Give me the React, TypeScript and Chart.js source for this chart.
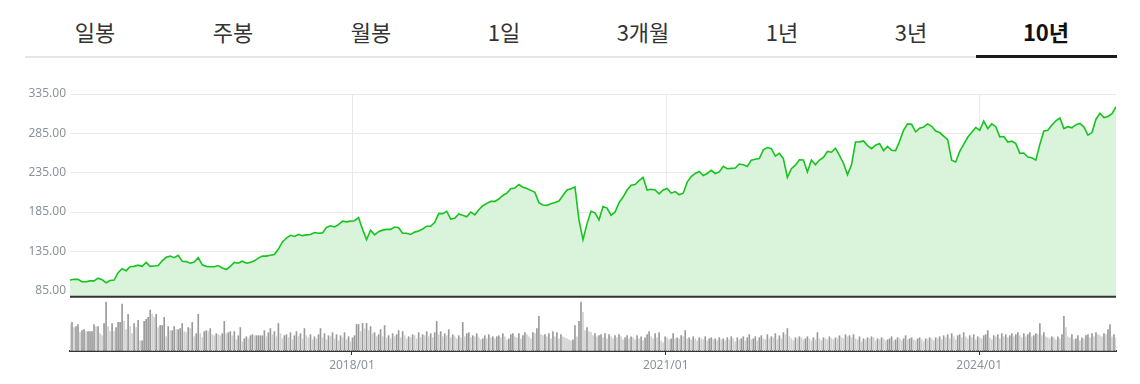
import React, { useEffect, useRef } from 'react';
import { Chart, registerables } from 'chart.js';

Chart.register(...registerables);

// ---- data ----
const tabs = ['일봉', '주봉', '월봉', '1일', '3개월', '1년', '3년', '10년'];
const selectedTab = '10년';

const startDate = '2015-04-22'; // first weekly sample
const tickDates = ['2018-01-01', '2021-01-01', '2024-01-01'];
const tickLabels = ['2018/01', '2021/01', '2024/01'];
const priceTicks = [85, 135, 185, 235, 285, 335];
const priceStepWeeks = 2;

// bi-weekly closing prices
const prices = [
  98.6, 99.5, 99.5, 96.5, 96.5, 97.5, 97.5, 101, 99, 95.2,
  98, 98.5, 108, 113, 110.5, 115.6, 116, 117.5, 116, 121,
  116, 116.5, 117, 123, 127.5, 129, 127, 130, 122.5, 122,
  120, 121.5, 127, 118, 116, 115.5, 115.5, 117, 114, 112,
  116, 121, 120, 122.5, 120, 121, 123, 126.5, 129, 129,
  130, 131, 138, 147, 152, 155.5, 154, 156.5, 155, 156,
  156.5, 159, 158, 158.5, 165.5, 167.5, 166, 169, 173.5, 172.5,
  173.5, 174, 178, 163, 150, 162, 156, 160,
  162, 163, 163, 166, 165, 158, 158, 156.5, 159.5, 161,
  163.5, 167, 167, 172, 183, 183, 186, 176, 177, 182.5,
  181, 179, 185, 181.5, 188, 193, 196, 198.5, 198.5, 201.5,
  206, 209, 214.5, 215.5, 220, 216.5, 215, 212.5, 210, 197,
  194, 193.5, 195.5, 197, 199, 206, 213, 214.5, 217, 175,
  150, 170, 186, 184, 175, 192, 190, 181, 185, 197,
  204, 213, 219, 220, 225, 229, 213, 214, 213, 208,
  213, 215, 209, 211, 207, 209, 223, 230, 234, 236.5,
  231.5, 234, 238, 234, 236, 243, 240, 240.5, 241, 246,
  245, 243, 251, 252, 253,
  264, 267, 265.5, 256, 259.5, 253, 229, 240, 244.5, 251.5,
  251.2, 236, 251, 245, 251, 254.5, 262, 261, 266, 257,
  247, 232.5, 245, 274, 274.2, 275.3, 269.5, 265.5, 270, 272,
  263, 268.5, 263.5, 263, 275, 289, 297, 296.5, 287, 291.5,
  293, 297, 294, 288, 286, 281.5, 277, 251, 248.7, 262,
  271, 280, 286.5, 292.5, 289, 300.5, 291, 297, 293.5, 280.6,
  281, 274, 275, 272, 259.5, 260, 255, 254, 251, 271,
  288, 289, 295.5, 301, 304.5, 291, 293.5, 292, 296, 297.5,
  293, 282.7, 286, 303, 310.5, 305, 306.5, 310, 319,
];

// weekly volume (relative units)
const volumes = [
  26, 28, 23, 24, 26, 18, 20, 21, 19, 19,
  19, 19, 26, 24, 24, 17, 15, 27, 48, 24,
  19, 27, 19, 23, 28, 28, 46, 29, 21, 36,
  24, 17, 27, 23, 30, 10, 10, 29, 31, 33,
  40, 36, 33, 36, 23, 25, 25, 33, 14, 24,
  20, 20, 24, 21, 21, 22, 27, 19, 18, 23,
  22, 28, 14, 17, 36, 17, 13, 19, 20, 19,
  22, 16, 15, 17, 16, 15, 17, 29, 17, 18,
  19, 15, 19, 11, 15, 23, 9, 12, 14, 12,
  15, 16, 15, 15, 15, 15,
  15, 20, 14, 18, 22, 16, 19, 14, 27,
  17, 12, 15, 16, 13, 18, 11, 15, 19, 14, 17, 12, 22, 15, 13, 16, 11, 14, 12, 16,
  22, 13, 17, 11, 15, 14, 18, 12, 16, 10, 15, 13, 18, 11, 14, 9,
  13, 15, 26, 26, 19, 27, 22, 27, 20, 24, 17, 18, 14, 16, 21, 14, 25,
  13, 15, 12, 17, 14, 16, 20, 13, 19, 15,
  12, 14, 13, 16, 15, 12, 18, 13, 16, 15,
  19, 14, 17, 13, 18, 29, 16, 19, 14, 17,
  15, 21, 13, 16, 14, 12, 15, 13, 28, 14,
  17, 18, 13, 15, 14, 17, 13, 11, 12, 15,
  12, 16, 13, 14, 12, 14, 15, 13, 17, 14,
  11, 12, 16, 17, 14, 13, 17, 12, 15, 18,
  16, 14, 12, 18, 17, 22, 34, 16, 15, 16,
  14, 17, 12, 19, 14, 18, 12, 16, 14, 13,
  12, 11, 10,
  11, 25, 14, 29, 48, 38, 20, 23, 19, 18,
  15, 17, 14, 15, 16, 13, 17, 12, 16, 14,
  12, 15, 13, 16, 14, 11, 13, 15, 12, 14,
  13, 11, 15, 12, 14, 10, 13, 16, 19, 14,
  12, 17, 13, 18, 10, 8, 14, 13, 11, 12,
  17, 12, 13, 12, 15, 14, 20, 12, 13, 11,
  14, 12, 10, 13, 12, 11, 14, 10, 12, 13,
  11, 12, 10, 13, 11,
  12, 10, 13, 11, 14, 12, 9, 13, 11, 12,
  14, 10, 13, 16, 11, 12, 14, 10, 13, 15,
  12, 11, 16, 12, 14, 13, 17, 11, 15, 12,
  18, 16, 22, 14, 12, 10, 13, 12, 14, 13,
  11, 12, 14, 12, 10, 13, 11, 18, 12, 10,
  13, 12, 11, 14, 12, 11, 13, 12, 15, 13,
  12, 16, 14, 15, 13, 16, 12, 11, 14, 9,
  12, 11, 13, 12, 14, 13, 10, 12, 11, 13,
  12, 10, 11, 12, 14, 10, 11, 13, 12, 10,
  12, 15, 11, 12, 13, 11, 10, 12, 13, 11,
  9, 12, 11, 13, 12, 10,
  13, 12, 14, 11, 15, 13, 16, 12, 17, 14,
  11, 15, 16, 13, 18, 14, 12, 15, 13, 16,
  11, 14, 13, 12, 15, 16, 20, 13, 11, 15,
  14, 16, 12, 17, 14, 16, 13, 15, 17, 14,
  16, 18, 15, 13, 17, 14, 16, 18, 14, 15,
  17, 16, 27, 15, 18, 14, 13, 12, 14, 13,
  11, 14, 12, 16, 34, 23, 14, 13, 16, 11,
  12, 15, 10, 13, 12, 15, 16, 13, 17, 14,
  18, 16, 15, 14, 17, 16, 21, 26, 14, 16,
  13,
];

// ---- layout / styles ----
const tabCenters = [95, 233, 371, 504, 643, 782, 911, 1046];
const LINE = '#17c41f';
const FILL = '#d9f4da';
const GRID = '#e9e9e9';
const LABEL = '#8c929b';
const AXIS = '#333333';
const VOL_DARK = '#9a9a9a';
const VOL_LIGHT = '#d0d0d0';
const FONT = '"Noto Sans", "Noto Sans CJK KR", sans-serif';

const weekOf = (d: string) => (Date.parse(d) - Date.parse(startDate)) / (7 * 86400000);
const tickWeeks = tickDates.map(weekOf);
const lastWeek = volumes.length - 1;

const priceDecor = {
  id: 'priceDecor',
  beforeDatasetsDraw(chart: any) {
    const { ctx, chartArea, scales } = chart;
    ctx.save();
    ctx.strokeStyle = GRID;
    ctx.lineWidth = 1;
    tickWeeks.forEach((w) => {
      const x = Math.round(scales.x.getPixelForValue(w)) + 0.5;
      ctx.beginPath();
      ctx.moveTo(x, chartArea.top);
      ctx.lineTo(x, chartArea.bottom);
      ctx.stroke();
    });
    ctx.restore();
  },
  afterDraw(chart: any) {
    const { ctx, chartArea } = chart;
    ctx.save();
    ctx.strokeStyle = AXIS;
    ctx.lineWidth = 2;
    ctx.beginPath();
    ctx.moveTo(chartArea.left, chartArea.bottom);
    ctx.lineTo(chartArea.right, chartArea.bottom);
    ctx.stroke();
    ctx.restore();
  },
};

export default function App() {
  const priceRef = useRef<HTMLCanvasElement>(null);
  const volRef = useRef<HTMLCanvasElement>(null);

  useEffect(() => {
    document.body.style.margin = '0';
    const priceChart = new Chart(priceRef.current!, {
      type: 'line',
      data: {
        datasets: [
          {
            data: prices.map((p, k) => ({ x: k * priceStepWeeks, y: p })),
            borderColor: LINE,
            backgroundColor: FILL,
            fill: 'start',
            borderWidth: 1.6,
            pointRadius: 0,
            tension: 0,
          },
        ],
      },
      options: {
        animation: false,
        responsive: false,
        maintainAspectRatio: false,
        layout: { padding: { left: 0, right: 24, top: 14, bottom: 0 } },
        plugins: { legend: { display: false }, tooltip: { enabled: false } },
        scales: {
          x: { type: 'linear', min: 0, max: lastWeek, display: false },
          y: {
            min: 77.3,
            max: 335,
            afterBuildTicks: (s: any) => {
              s.ticks = priceTicks.map((v) => ({ value: v }));
            },
            afterFit: (s: any) => {
              s.width = 70;
            },
            ticks: {
              callback: (v: any) => Number(v).toFixed(2),
              color: LABEL,
              font: { family: FONT, size: 12 },
              padding: 4,
            },
            grid: { color: GRID, drawTicks: false },
            border: { display: false },
          },
        },
      },
      plugins: [priceDecor],
    });

    const volChart = new Chart(volRef.current!, {
      type: 'bar',
      data: {
        datasets: [
          {
            data: volumes.map((v, i) => ({ x: i, y: v })),
            backgroundColor: volumes.map((v, i) => (i > 0 && v >= volumes[i - 1] ? VOL_DARK : VOL_LIGHT)),
            barThickness: 1,
            borderWidth: 0,
          },
        ],
      },
      options: {
        animation: false,
        responsive: false,
        maintainAspectRatio: false,
        layout: { padding: { left: 70, right: 24, top: 3, bottom: 0 } },
        plugins: { legend: { display: false }, tooltip: { enabled: false } },
        scales: {
          x: {
            type: 'linear',
            min: 0,
            max: lastWeek,
            offset: false,
            afterBuildTicks: (s: any) => {
              s.ticks = tickWeeks.map((v) => ({ value: v }));
            },
            afterFit: (s: any) => {
              s.height = 33;
            },
            ticks: {
              autoSkip: false,
              maxRotation: 0,
              color: LABEL,
              font: { family: FONT, size: 12 },
              padding: 3,
              callback: (_v: any, i: number) => tickLabels[i],
            },
            grid: {
              drawOnChartArea: false,
              drawTicks: true,
              tickLength: 4,
              tickColor: AXIS,
              offset: false,
            },
            border: { color: AXIS, width: 2 },
          },
          y: { display: false, min: 0, max: 50 },
        },
      },
    });

    return () => {
      priceChart.destroy();
      volChart.destroy();
    };
  }, []);

  const tabW = 136;
  const sel = tabs.indexOf(selectedTab);
  return (
    <div style={{ position: 'absolute', left: 0, top: 0, width: 1140, height: 384, background: '#fff', overflow: 'hidden' }}>
      {tabs.map((t, i) => {
        const isSel = i === sel;
        return (
          <div
            key={t}
            style={{
              position: 'absolute',
              left: tabCenters[i] - tabW / 2,
              top: 0,
              width: tabW,
              height: 62,
              lineHeight: '62px',
              textAlign: 'center',
              fontFamily: '"Noto Sans CJK KR", "Noto Sans", sans-serif',
              fontSize: 22,
              fontWeight: isSel ? 700 : 400,
              color: isSel ? '#111' : '#333',
            }}
          >
            {t}
          </div>
        );
      })}
      <div style={{ position: 'absolute', left: 25, top: 56, width: 1092, height: 2, background: '#e5e5e5' }} />
      <div style={{ position: 'absolute', left: 976, top: 55, width: 141, height: 3, background: '#1a1a1a' }} />
      <canvas ref={priceRef} width={1140} height={228} style={{ position: 'absolute', left: 0, top: 80 }} />
      <canvas ref={volRef} width={1140} height={87} style={{ position: 'absolute', left: 0, top: 297 }} />
    </div>
  );
}
